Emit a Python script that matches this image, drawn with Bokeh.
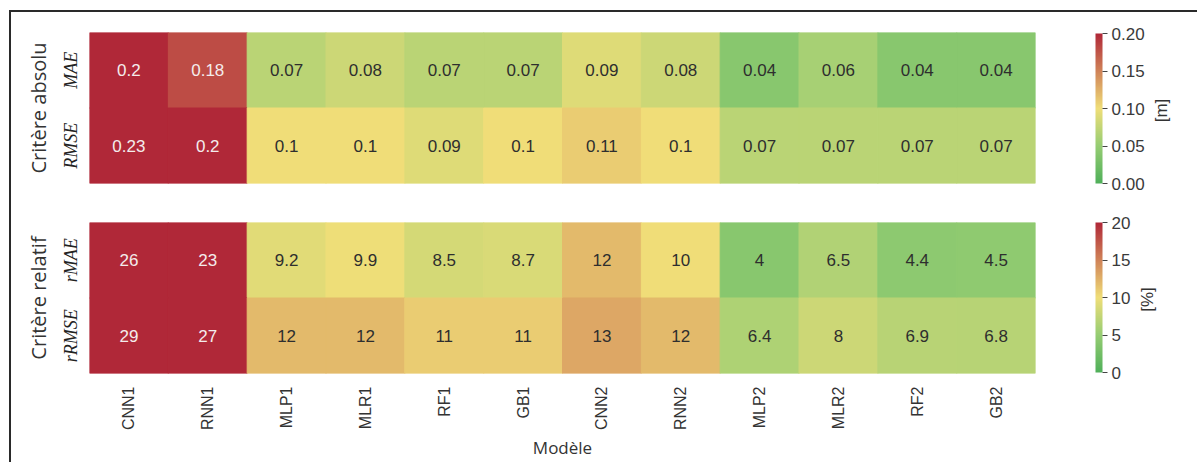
import numpy as np
from bokeh.plotting import figure
from bokeh.models import (ColumnDataSource, LinearColorMapper, ColorBar, FixedTicker,
                          Label, PrintfTickFormatter, FactorRange, Range1d)
from bokeh.layouts import row, column
from bokeh.embed import file_html
from bokeh.resources import INLINE
from bokeh.core.properties import value
from bokeh.transform import transform

# ---- data -------------------------------------------------------------
models = ["CNN1", "RNN1", "MLP1", "MLR1", "RF1", "GB1",
          "CNN2", "RNN2", "MLP2", "MLR2", "RF2", "GB2"]

abs_rows = ["MAE", "RMSE"]
mae = [0.2, 0.18, 0.07, 0.08, 0.07, 0.07, 0.09, 0.08, 0.04, 0.06, 0.04, 0.04]
rmse = [0.23, 0.2, 0.1, 0.1, 0.09, 0.1, 0.11, 0.1, 0.07, 0.07, 0.07, 0.07]

rel_rows = ["rMAE", "rRMSE"]
rmae = [26, 23, 9.2, 9.9, 8.5, 8.7, 12, 10, 4, 6.5, 4.4, 4.5]
rrmse = [29, 27, 12, 12, 11, 11, 13, 12, 6.4, 8, 6.9, 6.8]

abs_ticks = [0.00, 0.05, 0.10, 0.15, 0.20]
rel_ticks = [0, 5, 10, 15, 20]

# ---- colour scale: green -> yellow -> red --------------------------------
stops = [(0.0, (80, 176, 90)), (0.25, (150, 205, 115)),
         (0.5, (240, 222, 120)), (1.0, (176, 40, 56))]


def build_palette(n=256):
    pos = np.array([s[0] for s in stops])
    rgb = np.array([s[1] for s in stops], dtype=float)
    t = np.linspace(0, 1, n)
    cols = np.column_stack([np.interp(t, pos, rgb[:, k]) for k in range(3)])
    return ["#%02x%02x%02x" % tuple(int(round(c)) for c in r) for r in cols]


palette = build_palette()
TXT = "#333333"
FONT = "Liberation Sans"


def text_colour(v, lo, hi):
    idx = int(np.clip((v - lo) / (hi - lo), 0, 1) * (len(palette) - 1))
    h = palette[idx]
    r, g, b = (int(h[i:i + 2], 16) / 255 for i in (1, 3, 5))
    lum = 0.2126 * r + 0.7152 * g + 0.0722 * b
    return "#f4ecec" if lum < 0.45 else "#2e2e2e"


def heat_source(rows, values_rows, lo, hi):
    data = dict(model=[], metric=[], val=[], label=[], tcol=[])
    for name, vals in zip(rows, values_rows):
        for m, v in zip(models, vals):
            data["model"].append(m)
            data["metric"].append(name)
            data["val"].append(v)
            data["label"].append(f"{v:g}")
            data["tcol"].append(text_colour(v, lo, hi))
    return ColumnDataSource(data)


def make_heat(rows, values_rows, lo, hi, group_label, height, border_bottom, show_x):
    mapper = LinearColorMapper(palette=palette, low=lo, high=hi)
    src = heat_source(rows, values_rows, lo, hi)
    p = figure(x_range=FactorRange(*models), y_range=FactorRange(*reversed(rows)),
               width=1029, height=height,
               min_border_left=78, min_border_right=5,
               min_border_top=20, min_border_bottom=border_bottom,
               toolbar_location=None, output_backend="svg",
               outline_line_color=None, background_fill_color="white",
               border_fill_color="white")
    p.rect(x="model", y="metric", width=1, height=1, source=src,
           fill_color=transform("val", mapper),
           line_color=transform("val", mapper), line_width=1)
    p.text(x="model", y="metric", text="label", source=src,
           text_align="center", text_baseline="middle",
           text_font=value(FONT), text_font_size="17px", text_color="tcol")
    p.grid.grid_line_color = None

    ya = p.yaxis[0]
    ya.major_label_orientation = "vertical"
    ya.major_label_text_font = "Liberation Serif"
    ya.major_label_text_font_style = "italic"
    ya.major_label_text_font_size = "18px"
    ya.major_label_text_color = "#222222"
    ya.major_tick_out = 0
    ya.major_tick_in = 0
    ya.major_label_standoff = 9
    ya.axis_line_color = None
    ya.major_tick_line_color = None
    ya.axis_label = group_label
    ya.axis_label_text_font = "Open Sans"
    ya.axis_label_text_font_style = "normal"
    ya.axis_label_text_font_size = "20px"
    ya.axis_label_text_color = TXT
    ya.axis_label_standoff = 6

    xa = p.xaxis[0]
    if show_x:
        xa.major_label_orientation = np.pi / 2
        xa.major_label_text_font = FONT
        xa.major_label_text_font_size = "16px"
        xa.major_label_text_color = "#333333"
        xa.major_tick_out = 0
        xa.major_tick_in = 0
        xa.major_label_standoff = 13
        xa.axis_line_color = None
        xa.major_tick_line_color = None
        xa.axis_label = "Modèle"
        xa.axis_label_text_font = "Open Sans"
        xa.axis_label_text_font_style = "normal"
        xa.axis_label_text_font_size = "17px"
        xa.axis_label_text_color = TXT
        xa.axis_label_standoff = 3
    else:
        xa.visible = False
    return p, mapper


def make_bar(mapper, ticks, fmt, unit, height, bar_bottom, unit_x, unit_y):
    # the frame of this panel is aligned with the heatmap frame beside it
    w = 157
    f = figure(width=w, height=height, x_range=Range1d(0, w), y_range=Range1d(0, 1),
               min_border=0, toolbar_location=None, output_backend="svg",
               x_axis_type=None, y_axis_type=None, outline_line_color=None,
               background_fill_color="white", border_fill_color="white")
    f.grid.grid_line_color = None
    cb = ColorBar(color_mapper=mapper, ticker=FixedTicker(ticks=ticks),
                  formatter=PrintfTickFormatter(format=fmt),
                  width=7, height=150, padding=0, margin=0,
                  location=(55, bar_bottom),
                  major_tick_in=0, major_tick_out=5,
                  major_tick_line_color="#444444", minor_tick_line_color=None,
                  major_label_text_font=FONT, major_label_text_font_size="17px",
                  major_label_text_color="#3a3a3a", label_standoff=4,
                  bar_line_color=None, border_line_color=None,
                  background_fill_color=None)
    f.add_layout(cb, "center")
    f.add_layout(Label(x=unit_x, y=unit_y, x_units="screen", y_units="screen",
                       text=unit, angle=90, angle_units="deg",
                       text_align="center", text_baseline="middle",
                       text_font=FONT, text_font_size="17px",
                       text_color="#333333"))
    return f


heat_abs, map_abs = make_heat(abs_rows, [mae, rmse], 0.0, 0.2, "Critère absolu",
                              190, 19, False)
heat_rel, map_rel = make_heat(rel_rows, [rmae, rrmse], 0, 20, "Critère relatif",
                              260, 88, True)

bar_abs = make_bar(map_abs, abs_ticks, "%.2f", "[m]", 190, 0, 121, 73)
bar_rel = make_bar(map_rel, rel_ticks, "%d", "[%]", 260, 1, 107, 74)

layout = column(row(heat_abs, bar_abs), row(heat_rel, bar_rel),
                styles={"border-top": "2px solid #2a2a2a",
                        "border-left": "2px solid #2a2a2a",
                        "margin-left": "9px", "margin-top": "10px"})

open("out.html", "w").write(file_html(layout, INLINE))
